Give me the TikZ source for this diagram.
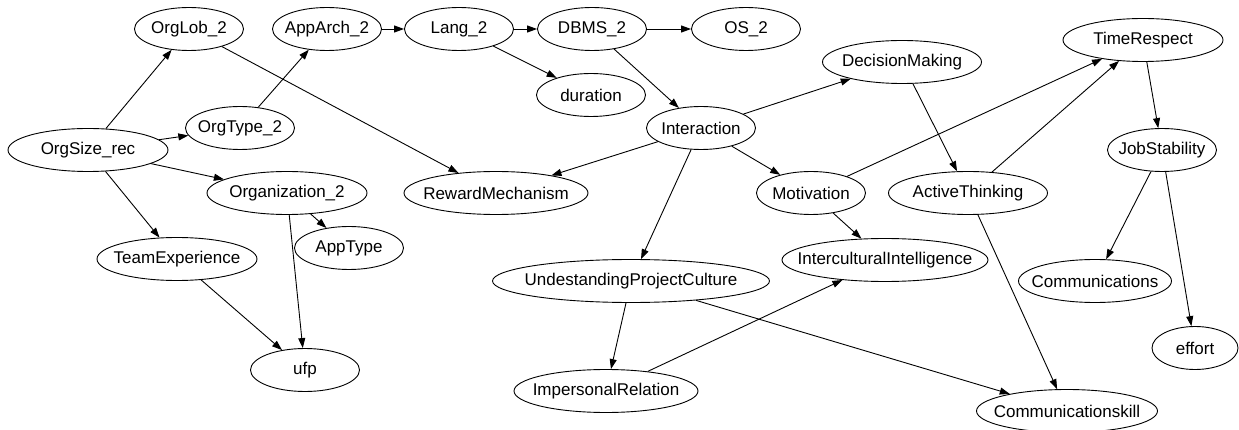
\documentclass[tikz,border=0pt]{standalone}
\usepackage{fontspec}
\setmainfont{Liberation Sans}
\usetikzlibrary{arrows.meta,shapes.geometric}

\begin{document}
\begin{tikzpicture}[
x=1pt,y=-1pt,
>={Triangle[length=10pt,width=7pt]},
every node/.style={font=\fontsize{17}{20}\selectfont},
oval/.style={
draw,
ellipse,
line width=0.9pt,
inner xsep=-30pt,
minimum width=#1,
minimum height=43pt
},
oval/.default=109,
arrow/.style={->,line width=0.9pt}
]
\useasboundingbox (0,0) rectangle (1239,430);

% Organisation side
\node[oval=160] (orgsize) at (88,150) {OrgSize\_rec};
\node[oval] (orglob) at (189,29) {OrgLob\_2};
\node[oval] (orgtype) at (240,128) {OrgType\_2};
\node[oval=160] (organization) at (287,193) {Organization\_2};
\node[oval=160] (teamexp) at (177,259) {TeamExperience};
\node[oval] (apptype) at (349,248) {AppType};
\node[oval] (ufp) at (305,370) {ufp};

% Technical chain
\node[oval] (apparch) at (327,29) {AppArch\_2};
\node[oval] (lang) at (459,29) {Lang\_2};
\node[oval] (dbms) at (592,29) {DBMS\_2};
\node[oval] (os) at (746,29) {OS\_2};
\node[oval] (duration) at (591,95) {duration};

% Interaction
\node[oval] (interaction) at (701,128) {Interaction};
\node[oval=184] (reward) at (496,193) {RewardMechanism};
\node[oval=159] (decision) at (902,62) {DecisionMaking};
\node[oval] (motivation) at (811,193) {Motivation};
\node[oval=159] (thinking) at (968,193) {ActiveThinking};
\node[oval=277] (culture) at (631,281) {UndestandingProjectCulture};
\node[oval=206] (intercult) at (885,260) {InterculturalIntelligence};
\node[oval=184] (impersonal) at (606,391) {ImpersonalRelation};
\node[oval=181] (commskill) at (1067,411) {Communicationskill};

% Right side
\node[oval=160] (timerespect) at (1143,40) {TimeRespect};
\node[oval] (jobstab) at (1162,150) {JobStability};
\node[oval=153] (comms) at (1095,281) {Communications};
\node[oval=86] (effort) at (1195,348) {effort};

% Arrows
\draw[arrow] (orgsize)--(orglob);
\draw[arrow] (orgsize)--(orgtype);
\draw[arrow] (orgsize)--(organization);
\draw[arrow] (orgsize)--(teamexp);

\draw[arrow] (orgtype)--(apparch);
\draw[arrow] (apparch)--(lang);
\draw[arrow] (lang)--(dbms);
\draw[arrow] (lang)--(duration);
\draw[arrow] (dbms)--(os);
\draw[arrow] (dbms)--(interaction);

\draw[arrow] (organization)--(apptype);
\draw[arrow] (organization)--(ufp);
\draw[arrow] (teamexp)--(ufp);

\draw[arrow] (orglob)--(reward);
\draw[arrow] (interaction)--(reward);
\draw[arrow] (interaction)--(decision);
\draw[arrow] (interaction)--(motivation);
\draw[arrow] (interaction)--(culture);

\draw[arrow] (decision)--(thinking);
\draw[arrow] (motivation)--(timerespect);
\draw[arrow] (thinking)--(timerespect);
\draw[arrow] (motivation)--(intercult);
\draw[arrow] (thinking)--(commskill);

\draw[arrow] (culture)--(impersonal);
\draw[arrow] (culture)--(commskill);
\draw[arrow] (impersonal)--(intercult);

\draw[arrow] (timerespect)--(jobstab);
\draw[arrow] (jobstab)--(comms);
\draw[arrow] (jobstab)--(effort);

\end{tikzpicture}
\end{document}
